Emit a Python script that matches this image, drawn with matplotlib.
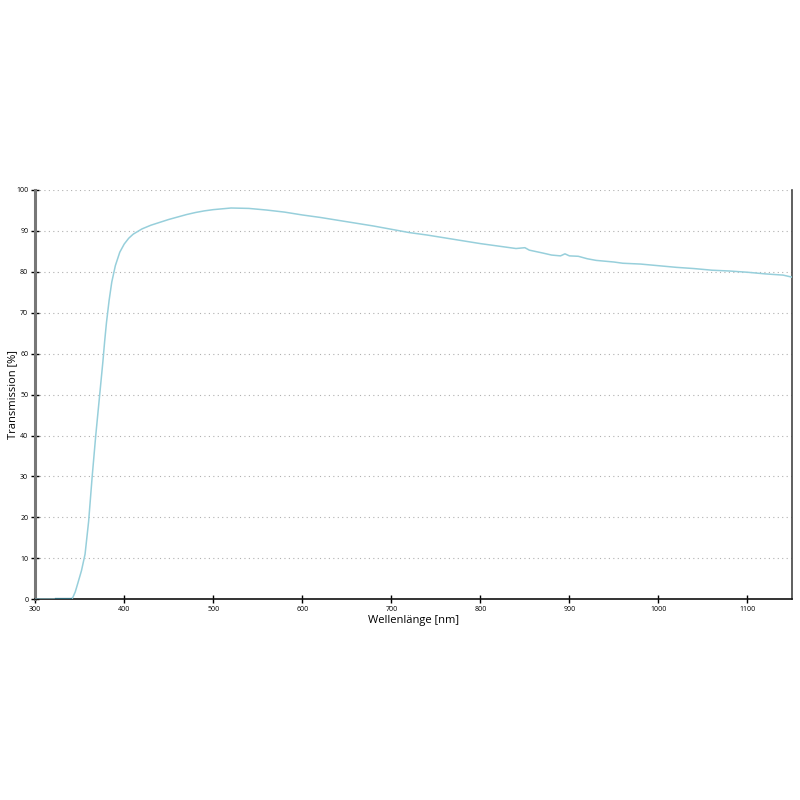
import matplotlib
matplotlib.use('Agg')
import matplotlib.pyplot as plt
import numpy as np

plt.rcParams['font.family'] = ['Open Sans', 'DejaVu Sans']

# transmission curve
wavelength = [300, 320, 340, 342, 345, 348, 352, 356, 360, 364, 368, 372, 374, 376,
              378, 380, 383, 386, 390, 395, 400, 405, 410, 420, 430, 440, 450, 460,
              470, 480, 490, 500, 510, 520, 530, 540, 550, 560, 580, 600, 620, 640,
              660, 680, 700, 720, 740, 760, 780, 800, 820, 840, 850, 855, 870, 880,
              890, 895, 900, 910, 920, 930, 940, 950, 960, 980, 1000, 1020, 1040,
              1060, 1080, 1100, 1120, 1140, 1150]
transmission = [0, 0, 0, 0.3, 1.8, 4.0, 7.0, 11, 19, 30, 40, 49, 53.5, 58,
                63, 67.5, 73, 77.5, 81.5, 84.8, 86.8, 88.2, 89.2, 90.5, 91.4, 92.1, 92.8, 93.4,
                94.0, 94.5, 94.9, 95.2, 95.4, 95.6, 95.55, 95.5, 95.3, 95.1, 94.6, 93.9, 93.3, 92.6,
                91.9, 91.2, 90.4, 89.6, 89.0, 88.3, 87.6, 86.9, 86.3, 85.7, 85.9, 85.3, 84.6, 84.1,
                83.9, 84.4, 83.9, 83.8, 83.2, 82.8, 82.6, 82.4, 82.1, 81.9, 81.5, 81.1, 80.8,
                80.4, 80.2, 79.9, 79.5, 79.2, 78.7]

# short dark segment on the baseline
dark_wl = [323, 340]
dark_t = [0, 0]

xticks = [300, 400, 500, 600, 700, 800, 900, 1000, 1100]
yticks = [0, 10, 20, 30, 40, 50, 60, 70, 80, 90, 100]

fig = plt.figure(figsize=(8, 8), dpi=100)
ax = fig.add_axes([0.044, 0.251, 0.946, 0.5115])

ax.plot(wavelength, transmission, color='#97cfdb', linewidth=1.1, zorder=3)
ax.plot(dark_wl, dark_t, color='#2e6878', linewidth=1.6, zorder=4)

ax.set_xlim(300, 1150)
ax.set_ylim(0, 100)
ax.set_xticks(xticks)
ax.set_yticks(yticks)
ax.tick_params(axis='both', labelsize=5, direction='inout', length=6, width=1, pad=2)
ax.yaxis.grid(True, linestyle=(0, (1, 3)), color='#b0b0b0', linewidth=0.8)
ax.set_axisbelow(True)

ax.spines['top'].set_visible(False)
ax.spines['left'].set_color('#777777')
ax.spines['left'].set_linewidth(2.2)
ax.spines['right'].set_color('#444444')
ax.spines['right'].set_linewidth(1.2)
ax.spines['bottom'].set_color('#111111')
ax.spines['bottom'].set_linewidth(1.2)

ax.set_xlabel('Wellenlänge [nm]', fontsize=8, labelpad=1)
ax.set_ylabel('Transmission [%]', fontsize=8)
ax.yaxis.set_label_coords(-0.022, 0.5)

fig.savefig('out.png', dpi=100)
